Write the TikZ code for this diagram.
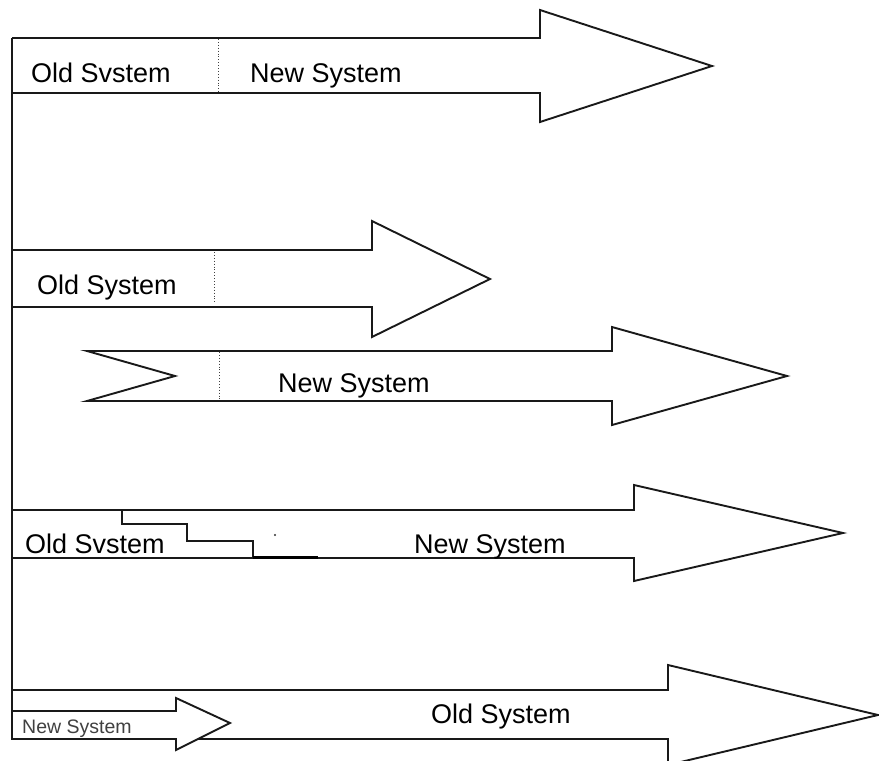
\documentclass[tikz,border=0pt]{standalone}
\usepackage{fontspec}
\setmainfont{Liberation Sans}
\begin{document}
\begin{tikzpicture}[x=1pt,y=-1pt,
  outline/.style={draw=black!90,line width=1.9pt,line join=miter,fill=white},
  divider/.style={draw=black!75,line width=0.9pt,dotted},
  lbl/.style={anchor=base west,inner sep=0pt,text=black,font=\fontsize{27}{32}\selectfont},
  smalllbl/.style={anchor=base west,inner sep=0pt,text=black!75,font=\fontsize{19.5}{23}\selectfont}]
\useasboundingbox (0,0) rectangle (879,761);
% Arrow 1
\draw[outline] (12,38) -- (540,38) -- (540,10) -- (712,66) -- (540,122) -- (540,93) -- (12,93);
\draw[divider] (218,39) -- (218,92);
\node[lbl] (a1old) at (31,82) {Old Svstem};
\node[lbl] (a1new) at (250,82) {New System};
% Arrow 2
\draw[outline] (12,250) -- (372,250) -- (372,221) -- (490,279) -- (372,337) -- (372,307) -- (12,307);
\draw[divider] (214,252) -- (214,303);
\node[lbl] (a2old) at (37,294) {Old System};
% Arrow 3
\draw[outline] (87,351) -- (612,351) -- (612,327) -- (787,376) -- (612,425) -- (612,401) -- (87,401) -- (175,376) -- cycle;
\draw[divider] (219,352) -- (219,399);
\node[lbl] (a3new) at (278,392) {New System};
% Arrow 4
\draw[outline] (12,510) -- (634,510) -- (634,485) -- (843,533) -- (634,581) -- (634,558) -- (12,558);
\draw[draw=black!90,line width=1.6pt] (122,510) -- (122,524) -- (187,524) -- (187,541) -- (253,541) -- (253,558);
\draw[draw=black,line width=2.4pt] (253,557.5) -- (318,557.5);
\fill[black!80] (275,535) circle (1.2pt);
\node[lbl] (a4old) at (25,553) {Old Svstem};
\node[lbl] (a4new) at (414,553) {New System};
% Arrow 5
\draw[outline] (12,690) -- (668,690) -- (668,665) -- (878,715) -- (668,765) -- (668,739) -- (12,739);
\draw[outline] (12,711) -- (176,711) -- (176,698) -- (230,723) -- (176,750) -- (176,738);
\node[lbl] (a5old) at (431,723) {Old System};
\node[smalllbl] (a5new) at (22,733) {New System};
% left vertical line
\draw[draw=black!90,line width=1.9pt] (12,38) -- (12,740);
\end{tikzpicture}
\end{document}
